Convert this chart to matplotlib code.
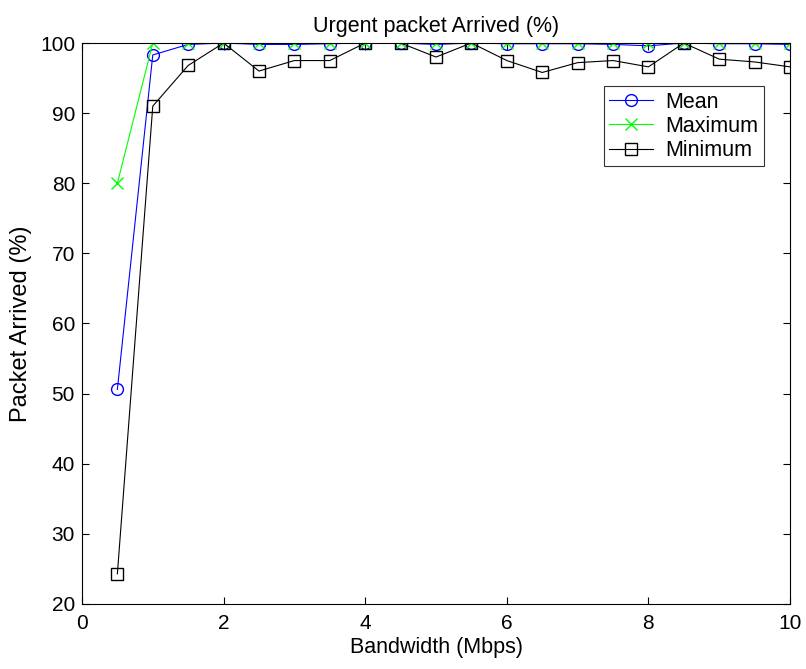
import matplotlib
matplotlib.use("Agg")
import matplotlib.pyplot as plt

plt.rcParams['font.family'] = ['Liberation Sans', 'DejaVu Sans']

bandwidth = [0.5, 1.0, 1.5, 2.0, 2.5, 3.0, 3.5, 4.0, 4.5, 5.0, 5.5, 6.0, 6.5, 7.0, 7.5, 8.0, 8.5, 9.0, 9.5, 10.0]
mean_vals = [50.6, 98.3, 99.8, 100.0, 99.8, 99.8, 99.9, 100.0, 100.0, 99.8, 100.0, 99.9, 99.9, 99.9, 99.8, 99.6, 100.0, 99.9, 99.9, 99.8]
max_vals = [80.0, 100.0, 100.0, 100.0, 100.0, 100.0, 100.0, 100.0, 100.0, 100.0, 100.0, 100.0, 100.0, 100.0, 100.0, 100.0, 100.0, 100.0, 100.0, 100.0]
min_vals = [24.3, 91.0, 96.8, 100.0, 96.0, 97.5, 97.5, 100.0, 100.0, 98.0, 100.0, 97.5, 95.8, 97.2, 97.5, 96.6, 100.0, 97.7, 97.3, 96.6]

fig = plt.figure(figsize=(8.06, 6.69), dpi=100)
ax = fig.add_axes([0.1017, 0.0972, 0.8785, 0.8385])

ax.plot(bandwidth, mean_vals, color='blue', marker='o', markersize=8.5, markerfacecolor='none', linewidth=0.8, label='Mean')
ax.plot(bandwidth, max_vals, color='#00ff00', marker='x', markersize=8.5, linewidth=0.8, label='Maximum')
ax.plot(bandwidth, min_vals, color='black', marker='s', markersize=8.5, markerfacecolor='none', linewidth=0.8, label='Minimum')

ax.set_xlim(0, 10)
ax.set_ylim(20, 100)
ax.set_xticks([0, 2, 4, 6, 8, 10])
ax.set_yticks([20, 30, 40, 50, 60, 70, 80, 90, 100])
ax.tick_params(direction='in', top=True, right=True, labelsize=15, length=5, width=0.8)
ax.tick_params(axis='x', pad=7)
ax.tick_params(axis='y', pad=5)
for s in ax.spines.values():
    s.set_linewidth(0.8)

ax.set_xlabel('Bandwidth (Mbps)', fontsize=15.5, labelpad=3)
ax.set_ylabel('Packet Arrived (%)', fontsize=17, labelpad=6)
ax.set_title('Urgent packet Arrived (%)', fontsize=15.5, pad=8)

leg = ax.legend(loc='upper right', bbox_to_anchor=(0.963, 0.923), fontsize=15.5, frameon=True, fancybox=False,
                edgecolor='black', borderpad=0.25, labelspacing=0.15, handlelength=2.0, handletextpad=0.6,
                borderaxespad=0)
leg.get_frame().set_linewidth(0.8)

fig.savefig('out.png', dpi=100)
